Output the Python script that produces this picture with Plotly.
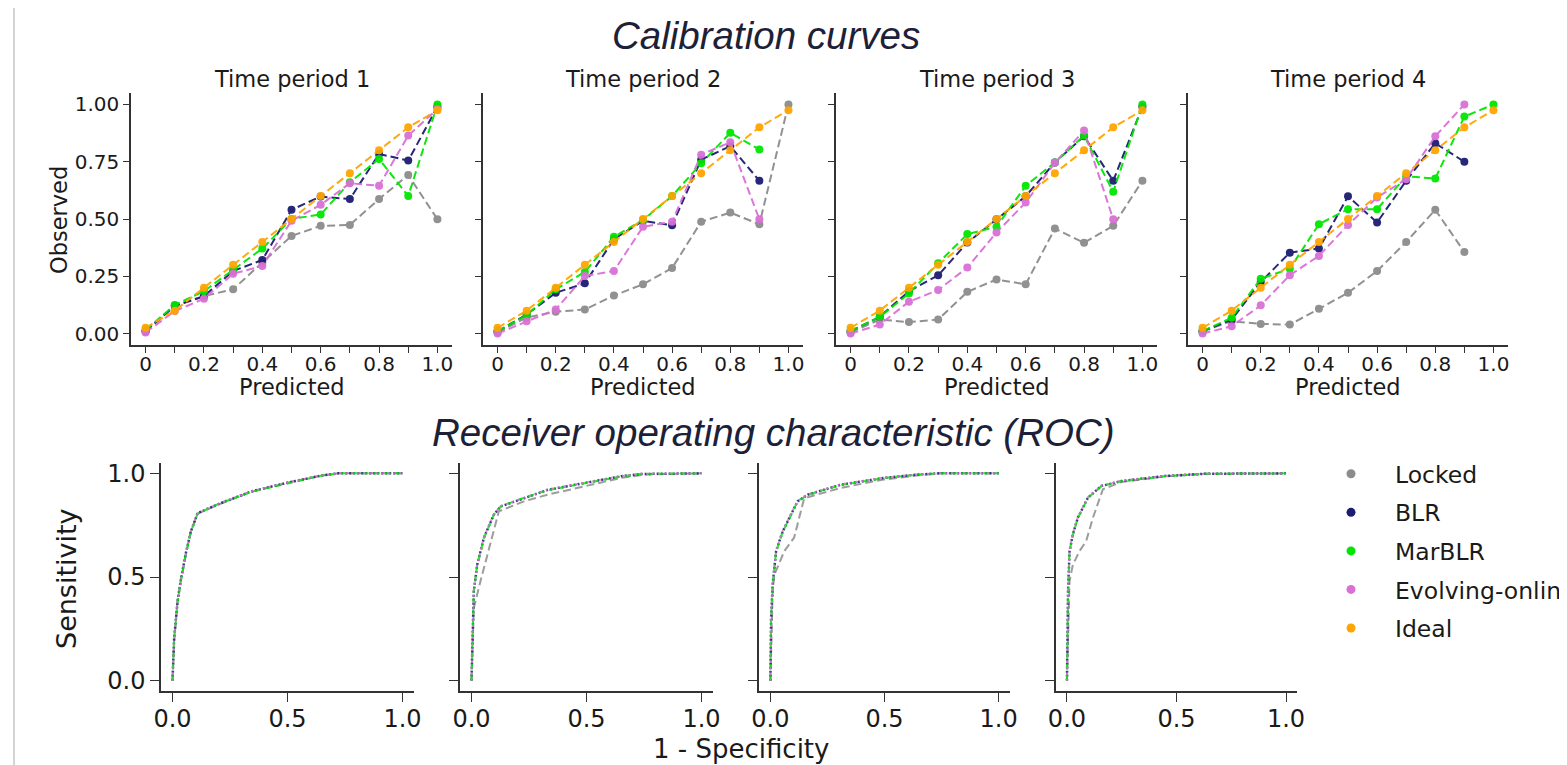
import plotly.graph_objects as go

# ---------------- data ----------------
methods = ["Locked", "BLR", "MarBLR", "Evolving-online", "Ideal"]
colors = ["#8c8c8c", "#1c1c72", "#00e600", "#da70d6", "#ffa500"]

pred_bins = [0.0, 0.1, 0.2, 0.3, 0.4, 0.5, 0.6, 0.7, 0.8, 0.9, 1.0]
period_titles = ["Time period 1", "Time period 2", "Time period 3", "Time period 4"]
calib_xtick_vals = [0.0, 0.1, 0.2, 0.3, 0.4, 0.5, 0.6, 0.7, 0.8, 0.9, 1.0]
calib_xtick_text = ["0", "", "0.2", "", "0.4", "", "0.6", "", "0.8", "", "1.0"]
calib_ytick_vals = [0.0, 0.25, 0.5, 0.75, 1.0]
calib_ytick_text = ["0.00", "0.25", "0.50", "0.75", "1.00"]
roc_tick_vals = [0.0, 0.5, 1.0]
roc_tick_text = ["0.0", "0.5", "1.0"]

ideal = [0.025, 0.1, 0.2, 0.3, 0.4, 0.5, 0.6, 0.7, 0.8, 0.9, 0.975]

p1_locked = [0.01, 0.123, 0.163, 0.193, 0.31, 0.426, 0.47, 0.474, 0.587, 0.692, 0.499]
p1_blr = [0.01, 0.12, 0.163, 0.273, 0.321, 0.54, 0.598, 0.587, 0.784, 0.755, 0.99]
p1_marblr = [0.015, 0.125, 0.185, 0.278, 0.371, 0.5, 0.52, 0.66, 0.762, 0.60, 1.0]
p1_evolving = [0.005, 0.098, 0.152, 0.261, 0.295, 0.492, 0.562, 0.656, 0.645, 0.864, 0.98]

p2_locked = [0.005, 0.07, 0.095, 0.105, 0.166, 0.215, 0.286, 0.488, 0.528, 0.477, 1.0]
p2_blr = [0.01, 0.083, 0.178, 0.219, 0.412, 0.492, 0.473, 0.759, 0.818, 0.667, None]
p2_marblr = [0.01, 0.08, 0.193, 0.269, 0.422, 0.496, 0.6, 0.743, 0.876, 0.803, None]
p2_evolving = [0.0, 0.054, 0.105, 0.251, 0.273, 0.466, 0.488, 0.781, 0.835, 0.499, None]

p3_locked = [0.005, 0.061, 0.05, 0.061, 0.182, 0.236, 0.215, 0.458, 0.396, 0.47, 0.667]
p3_blr = [0.01, 0.073, 0.185, 0.254, 0.397, 0.499, 0.599, 0.747, 0.861, 0.667, 0.99]
p3_marblr = [0.01, 0.073, 0.175, 0.307, 0.434, 0.466, 0.645, 0.747, 0.864, 0.619, 1.0]
p3_evolving = [0.0, 0.039, 0.139, 0.19, 0.288, 0.441, 0.572, 0.745, 0.886, 0.499, None]

p4_locked = [0.01, 0.054, 0.042, 0.039, 0.108, 0.178, 0.273, 0.4, 0.54, 0.356, None]
p4_blr = [0.01, 0.061, 0.225, 0.353, 0.371, 0.599, 0.485, 0.667, 0.831, 0.75, None]
p4_marblr = [0.01, 0.069, 0.239, 0.283, 0.477, 0.543, 0.543, 0.686, 0.677, 0.947, 1.0]
p4_evolving = [0.0, 0.032, 0.123, 0.255, 0.339, 0.474, 0.594, 0.674, 0.861, 1.0, None]

# ROC curves (1 - specificity, sensitivity)
roc1_fpr = [0, 0.007, 0.022, 0.036, 0.058, 0.08, 0.109, 0.2, 0.34, 0.5, 0.65, 0.72, 1.0]
roc1_locked = [0, 0.19, 0.38, 0.48, 0.61, 0.72, 0.805, 0.85, 0.91, 0.955, 0.99, 1.0, 1.0]
roc1_blr = [0, 0.2, 0.385, 0.485, 0.615, 0.72, 0.808, 0.852, 0.912, 0.955, 0.99, 1.0, 1.0]
roc1_marblr = [0, 0.2, 0.38, 0.48, 0.61, 0.718, 0.806, 0.852, 0.91, 0.953, 0.99, 1.0, 1.0]
roc1_evolving = [0, 0.195, 0.383, 0.483, 0.612, 0.72, 0.807, 0.853, 0.913, 0.956, 0.99, 1.0, 1.0]

roc2_fpr = [0, 0.006, 0.01, 0.025, 0.054, 0.097, 0.126, 0.228, 0.33, 0.49, 0.65, 0.735, 1.0]
roc2_locked_fpr = [0, 0.01, 0.039, 0.083, 0.119, 0.228, 0.33, 0.49, 0.65, 0.76, 1.0]
roc2_locked = [0, 0.35, 0.48, 0.67, 0.817, 0.865, 0.897, 0.937, 0.978, 0.995, 1.0]
roc2_blr = [0, 0.272, 0.433, 0.56, 0.69, 0.80, 0.84, 0.88, 0.92, 0.953, 0.986, 0.997, 1.0]
roc2_marblr = [0, 0.27, 0.43, 0.558, 0.688, 0.80, 0.84, 0.882, 0.918, 0.952, 0.985, 0.997, 1.0]
roc2_evolving = [0, 0.275, 0.435, 0.562, 0.692, 0.802, 0.842, 0.882, 0.922, 0.955, 0.987, 0.998, 1.0]

roc3_fpr = [0, 0.003, 0.01, 0.025, 0.054, 0.119, 0.163, 0.308, 0.496, 0.64, 0.74, 1.0]
roc3_locked_fpr = [0, 0.01, 0.017, 0.061, 0.104, 0.148, 0.308, 0.496, 0.64, 0.74, 1.0]
roc3_locked = [0, 0.433, 0.51, 0.625, 0.69, 0.88, 0.93, 0.97, 0.99, 1.0, 1.0]
roc3_blr = [0, 0.30, 0.465, 0.625, 0.72, 0.865, 0.897, 0.945, 0.978, 0.994, 1.0, 1.0]
roc3_marblr = [0, 0.298, 0.462, 0.622, 0.718, 0.864, 0.896, 0.944, 0.977, 0.994, 1.0, 1.0]
roc3_evolving = [0, 0.302, 0.467, 0.628, 0.723, 0.867, 0.899, 0.947, 0.979, 0.995, 1.0, 1.0]

roc4_fpr = [0, 0.005, 0.012, 0.027, 0.05, 0.096, 0.157, 0.248, 0.445, 0.628, 1.0]
roc4_locked_fpr = [0, 0.012, 0.027, 0.058, 0.088, 0.119, 0.164, 0.248, 0.445, 0.628, 1.0]
roc4_locked = [0, 0.48, 0.56, 0.626, 0.674, 0.787, 0.923, 0.958, 0.985, 0.998, 1.0]
roc4_blr = [0, 0.433, 0.626, 0.706, 0.787, 0.883, 0.939, 0.963, 0.987, 0.998, 1.0]
roc4_marblr = [0, 0.43, 0.622, 0.704, 0.785, 0.882, 0.938, 0.962, 0.986, 0.998, 1.0]
roc4_evolving = [0, 0.436, 0.629, 0.709, 0.789, 0.885, 0.94, 0.964, 0.988, 0.998, 1.0]

calib_panels = [
    [p1_locked, p1_blr, p1_marblr, p1_evolving, ideal],
    [p2_locked, p2_blr, p2_marblr, p2_evolving, ideal],
    [p3_locked, p3_blr, p3_marblr, p3_evolving, ideal],
    [p4_locked, p4_blr, p4_marblr, p4_evolving, ideal],
]
roc_panels = [
    [(roc1_fpr, roc1_locked), (roc1_fpr, roc1_blr), (roc1_fpr, roc1_marblr), (roc1_fpr, roc1_evolving)],
    [(roc2_locked_fpr, roc2_locked), (roc2_fpr, roc2_blr), (roc2_fpr, roc2_marblr), (roc2_fpr, roc2_evolving)],
    [(roc3_locked_fpr, roc3_locked), (roc3_fpr, roc3_blr), (roc3_fpr, roc3_marblr), (roc3_fpr, roc3_evolving)],
    [(roc4_locked_fpr, roc4_locked), (roc4_fpr, roc4_blr), (roc4_fpr, roc4_marblr), (roc4_fpr, roc4_evolving)],
]

# ---------------- layout geometry (page pixels) ----------------
PAGE_W, PAGE_H = 1567, 765
OFF = 8  # default body margin of the html page
W, H = PAGE_W - OFF, PAGE_H - OFF
calib_x_px = [(131, 452), (483, 803), (836, 1157), (1188, 1508)]
calib_y_px = (93, 345)
roc_x_px = [(161, 414), (460, 713), (759, 1010), (1056, 1297)]
roc_y_px = (463, 691)


def fx_(a):
    return (a - OFF) / W


def fy_(b):
    return 1 - (b - OFF) / H


def px_x(a, b):
    return [fx_(a), fx_(b)]


def px_y(top, bottom):
    return [fy_(bottom), fy_(top)]


TXT = "#1a1a1a"
AX = "#333333"
DJ = "DejaVu Sans"

fig = go.Figure()
layout = {}

dash = "8px,4px"

for i in range(4):
    xa = f"x{i + 1}" if i else "x"
    ya = f"y{i + 1}" if i else "y"
    for m, (name, col) in enumerate(zip(methods, colors)):
        fig.add_trace(go.Scatter(
            x=pred_bins, y=calib_panels[i][m], xaxis=xa, yaxis=ya,
            mode="lines+markers", showlegend=False, connectgaps=False,
            line=dict(color=col, width=2, dash=dash),
            marker=dict(color=col, size=8), opacity=0.95, name=name))
    kx = "xaxis" + (str(i + 1) if i else "")
    ky = "yaxis" + (str(i + 1) if i else "")
    layout[kx] = dict(domain=px_x(*calib_x_px[i]), range=[-0.05, 1.05], anchor=ya,
                      showgrid=False, zeroline=False, showline=True, linecolor=AX, linewidth=1.5,
                      ticks="outside", ticklen=6, tickwidth=1.3, tickcolor=AX,
                      tickvals=calib_xtick_vals, ticktext=calib_xtick_text,
                      ticklabelstandoff=-6,
                      tickfont=dict(family=DJ, size=20, color=TXT))
    layout[ky] = dict(domain=px_y(*calib_y_px), range=[-0.05, 1.05], anchor=xa,
                      showgrid=False, zeroline=False, showline=True, linecolor=AX, linewidth=1.5,
                      ticks="outside", ticklen=6, tickwidth=1.3, tickcolor=AX,
                      tickvals=calib_ytick_vals, ticktext=calib_ytick_text,
                      showticklabels=(i == 0),
                      tickfont=dict(family=DJ, size=20, color=TXT))

roc_order = [0, 1, 2, 3]
roc_dash = ["8px,4px", "2px,2px", "6px,5px", "2px,4px"]
roc_width = [2, 2.5, 2, 2]
for i in range(4):
    n = i + 5
    xa, ya = f"x{n}", f"y{n}"
    for m in roc_order:
        fxs, ty = roc_panels[i][m]
        fig.add_trace(go.Scatter(
            x=fxs, y=ty, xaxis=xa, yaxis=ya, mode="lines", showlegend=False,
            line=dict(color=colors[m], width=roc_width[m], dash=roc_dash[m]), opacity=0.85,
            name=methods[m]))
    layout[f"xaxis{n}"] = dict(domain=px_x(*roc_x_px[i]), range=[-0.05, 1.05], anchor=ya,
                               showgrid=False, zeroline=False, showline=True, linecolor=AX, linewidth=1.5,
                               ticks="outside", ticklen=9, tickwidth=1.3, tickcolor=AX,
                               tickvals=roc_tick_vals, ticktext=roc_tick_text,
                               ticklabelstandoff=-4,
                               tickfont=dict(family=DJ, size=24, color=TXT))
    layout[f"yaxis{n}"] = dict(domain=px_y(*roc_y_px), range=[-0.05, 1.05], anchor=xa,
                               showgrid=False, zeroline=False, showline=True, linecolor=AX, linewidth=1.5,
                               ticks="outside", ticklen=9, tickwidth=1.3, tickcolor=AX,
                               tickvals=roc_tick_vals, ticktext=roc_tick_text,
                               showticklabels=(i == 0),
                               tickfont=dict(family=DJ, size=24, color=TXT))

# legend-only entries (dots)
for m, (name, col) in enumerate(zip(methods, colors)):
    fig.add_trace(go.Scatter(x=[None], y=[None], xaxis="x5", yaxis="y5", mode="markers",
                             marker=dict(color=col, size=9), name=name, showlegend=True,
                             legendgroup=name))

annotations = []
HEAD = dict(family="Liberation Sans, Arial, sans-serif", size=38.5, color="#1d2138", style="italic")
annotations.append(dict(text="Calibration curves", x=fx_(766), y=fy_(35), xref="paper", yref="paper",
                        showarrow=False, xanchor="center", yanchor="middle", font=HEAD))
annotations.append(dict(text="Receiver operating characteristic (ROC)", x=fx_(773), y=fy_(432),
                        xref="paper", yref="paper", showarrow=False, xanchor="center", yanchor="middle",
                        font=HEAD))
for i in range(4):
    cx = fx_((calib_x_px[i][0] + calib_x_px[i][1]) / 2)
    annotations.append(dict(text=period_titles[i], x=cx, y=fy_(79), xref="paper", yref="paper",
                            showarrow=False, xanchor="center", yanchor="middle",
                            font=dict(family=DJ, size=22.5, color=TXT)))
    annotations.append(dict(text="Predicted", x=cx, y=fy_(387), xref="paper", yref="paper",
                            showarrow=False, xanchor="center", yanchor="middle",
                            font=dict(family=DJ, size=22.5, color=TXT)))
annotations.append(dict(text="Observed", x=fx_(59), y=fy_(220), xref="paper", yref="paper",
                        showarrow=False, textangle=-90, xanchor="center", yanchor="middle",
                        font=dict(family=DJ, size=22.5, color=TXT)))
annotations.append(dict(text="Sensitivity", x=fx_(66), y=fy_(578), xref="paper", yref="paper",
                        showarrow=False, textangle=-90, xanchor="center", yanchor="middle",
                        font=dict(family=DJ, size=27, color=TXT)))
annotations.append(dict(text="1 - Specificity", x=fx_(741), y=fy_(749), xref="paper", yref="paper",
                        showarrow=False, xanchor="center", yanchor="middle",
                        font=dict(family=DJ, size=26, color=TXT)))

fig.update_layout(
    width=W, height=H,
    margin=dict(l=0, r=0, t=0, b=0, pad=0, autoexpand=False),
    paper_bgcolor="white", plot_bgcolor="white",
    annotations=annotations,
    shapes=[dict(type="line", xref="paper", yref="paper", x0=fx_(14), x1=fx_(14), y0=0, y1=1,
                 line=dict(color="#d4d4d4", width=2))],
    legend=dict(x=fx_(1307), y=fy_(452), xanchor="left", yanchor="top",
                font=dict(family=DJ, size=23.5, color=TXT), itemwidth=78,
                tracegroupgap=5, bgcolor="rgba(0,0,0,0)", borderwidth=0),
    **layout,
)

fig.write_html("out.html")
